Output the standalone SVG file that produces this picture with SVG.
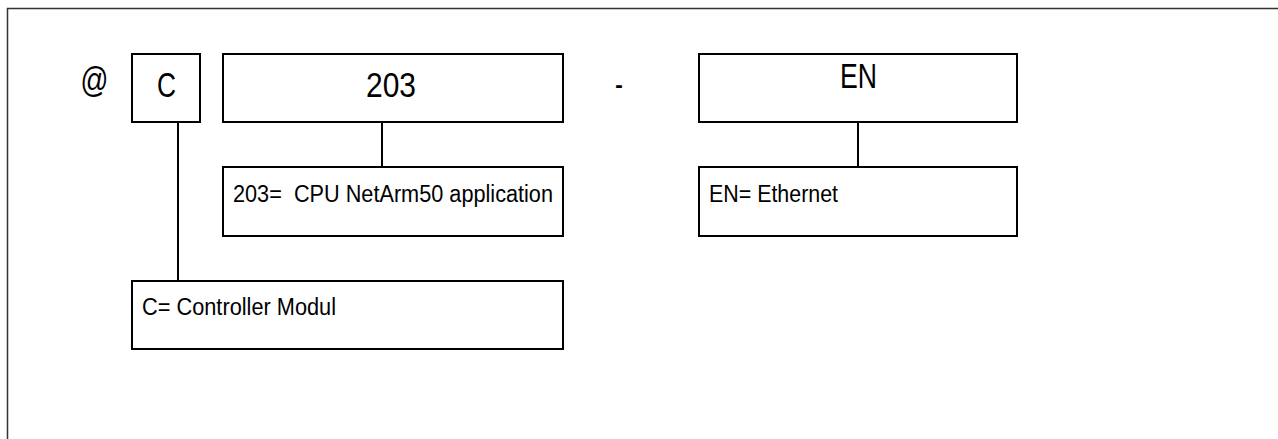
<svg xmlns="http://www.w3.org/2000/svg" width="1278" height="439" viewBox="0 0 1278 439">
<style>
.box{fill:#fff;stroke:#000;stroke-width:2}
.conn line{stroke:#000;stroke-width:2}
.big{font-family:"Liberation Sans",Arial,sans-serif;font-size:35px;fill:#000}
.lbl{font-family:"Liberation Sans",Arial,sans-serif;font-size:23px;fill:#000;white-space:pre}
</style>
<rect x="0" y="0" width="1278" height="439" fill="#fff"/>
<path d="M7.5 440 V8.5 H1279" fill="none" stroke="#333" stroke-width="1.5"/>
<text x="80" y="92" class="big" font-style="italic" font-size="27px" textLength="28" lengthAdjust="spacingAndGlyphs">@</text>
<text x="615" y="96" class="big" font-size="26px" textLength="8" lengthAdjust="spacingAndGlyphs">-</text>
<g class="conn">
<line x1="178" y1="122" x2="178" y2="281"/>
<line x1="382" y1="122" x2="382" y2="167"/>
<line x1="858" y1="122" x2="858" y2="167"/>
</g>
<g id="nodeC">
<rect class="box" x="132" y="54" width="68" height="68"/>
<text x="157" y="97" class="big" textLength="19" lengthAdjust="spacingAndGlyphs">C</text>
</g>
<g id="node203">
<rect class="box" x="223" y="54" width="340" height="68"/>
<text x="366" y="97" class="big" textLength="50" lengthAdjust="spacingAndGlyphs">203</text>
</g>
<g id="nodeEN">
<rect class="box" x="699" y="54" width="318" height="68"/>
<text x="840" y="88" class="big" textLength="37" lengthAdjust="spacingAndGlyphs">EN</text>
</g>
<g id="label203">
<rect class="box" x="223" y="167" width="340" height="69"/>
<text x="233" y="202" class="lbl" textLength="320" lengthAdjust="spacingAndGlyphs">203=  CPU NetArm50 application</text>
</g>
<g id="labelEN">
<rect class="box" x="699" y="167" width="318" height="69"/>
<text x="709" y="202" class="lbl" textLength="129" lengthAdjust="spacingAndGlyphs">EN= Ethernet</text>
</g>
<g id="labelC">
<rect class="box" x="132" y="281" width="431" height="68"/>
<text x="142" y="315" class="lbl" textLength="194" lengthAdjust="spacingAndGlyphs">C= Controller Modul</text>
</g>
</svg>
